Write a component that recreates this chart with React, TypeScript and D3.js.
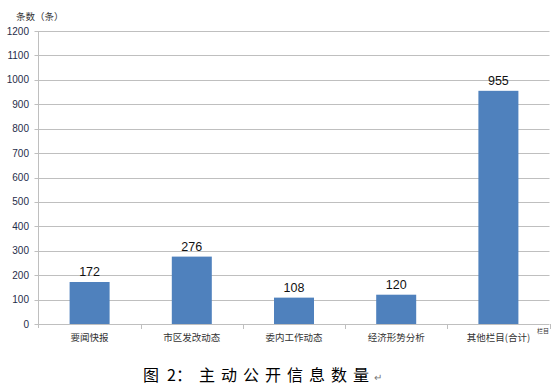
import React from "react";
import * as d3 from "d3";

const categories = ["要闻快报", "市区发改动态", "委内工作动态", "经济形势分析", "其他栏目(合计)"];
const values = [172, 276, 108, 120, 955];
const yTicks = [0, 100, 200, 300, 400, 500, 600, 700, 800, 900, 1000, 1100, 1200];

export default function App() {
  const W = 555, H = 389;
  const left = 38.5, right = 549.5, top = 31, bottom = 324;
  const x = d3.scaleBand<string>().domain(categories).range([left, right]).paddingInner(0).paddingOuter(0);
  const y = d3.scaleLinear().domain([0, 1200]).range([bottom, top]);
  const barW = 40;
  const font = "'Noto Sans CJK SC', 'Liberation Sans', sans-serif";
  return (
    <svg width={W} height={H} style={{ position: "absolute", left: 0, top: 0, background: "#fff" }}>
      <rect x={0} y={0} width={W} height={H} fill="#fff" />
      {yTicks.map((t) => (
        <g key={t}>
          {t > 0 && (
            <line x1={left} x2={right} y1={Math.round(y(t)) + 0.5} y2={Math.round(y(t)) + 0.5} stroke="#BFBFBF" strokeWidth={1} />
          )}
          <line x1={left - 4} x2={left} y1={Math.round(y(t)) + 0.5} y2={Math.round(y(t)) + 0.5} stroke="#BFBFBF" />
          <text x={29} y={y(t) + 3.5} textAnchor="end" fontSize={10} fontFamily="'Liberation Sans', sans-serif" fill="#1F2D4A">
            {t}
          </text>
        </g>
      ))}
      <line x1={left} x2={right} y1={bottom + 0.5} y2={bottom + 0.5} stroke="#BFBFBF" />
      <line x1={left} x2={left} y1={top} y2={bottom + 4} stroke="#BFBFBF" />
      {categories.map((c, i) => (
        <line key={"t" + i} x1={Math.round(x(c)! + x.bandwidth()) + 0.5} x2={Math.round(x(c)! + x.bandwidth()) + 0.5} y1={bottom} y2={bottom + 5} stroke="#BFBFBF" />
      ))}
      {categories.map((c, i) => {
        const cx = x(c)! + x.bandwidth() / 2;
        return (
          <g key={c}>
            <rect x={cx - barW / 2} y={y(values[i])} width={barW} height={bottom - y(values[i])} fill="#4F81BD" />
            <text x={cx} y={y(values[i]) - 6} textAnchor="middle" fontSize={12.5} fontFamily="'Liberation Sans', sans-serif" fill="#111">
              {values[i]}
            </text>
            <text x={cx} y={341} textAnchor="middle" fontSize={9.5} fontFamily={font} fill="#333">
              {c}
            </text>
          </g>
        );
      })}
      <text x={16} y={20} fontSize={9.5} fontFamily={font} fill="#333">条数（条）</text>
      <text x={537} y={333} fontSize={6} fontFamily={font} fill="#333">栏目</text>
      <text x={143} y={381} fontSize={16} fontFamily="'Noto Sans CJK SC', serif" fill="#000">图</text>
      <text x={167} y={381} fontSize={16} fontFamily="'Noto Sans CJK SC', serif" fill="#000">2：</text>
      <text x={199} y={381} fontSize={16} fontFamily="'Noto Sans CJK SC', serif" fill="#000" letterSpacing={6}>
        主动公开信息数量
      </text>
      <text x={374} y={381} fontSize={10} fontFamily={font} fill="#777">↵</text>
    </svg>
  );
}
